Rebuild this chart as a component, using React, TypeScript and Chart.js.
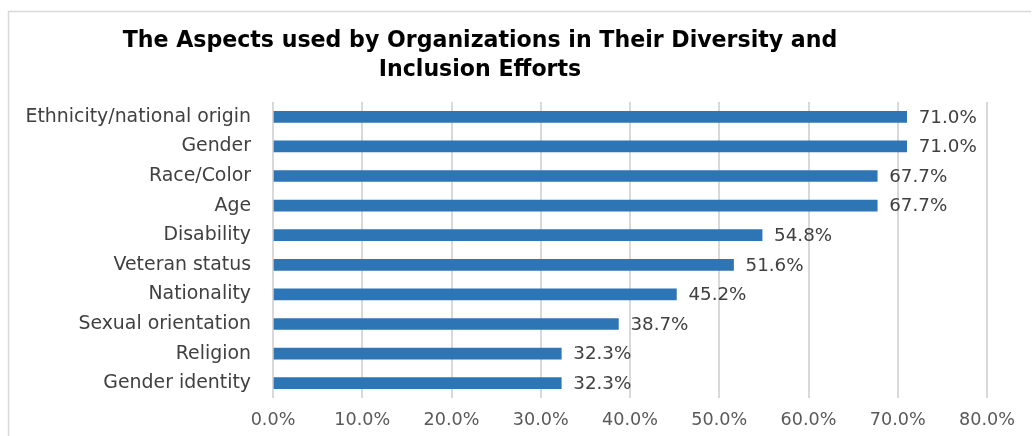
import React, { useEffect, useRef } from "react";
import { Chart, registerables } from "chart.js";

Chart.register(...registerables);

const TITLE_LINES = [
  "The Aspects used by Organizations in Their Diversity and",
  "Inclusion Efforts",
];
const CATEGORIES = [
  "Ethnicity/national origin",
  "Gender",
  "Race/Color",
  "Age",
  "Disability",
  "Veteran status",
  "Nationality",
  "Sexual orientation",
  "Religion",
  "Gender identity",
];
const VALUES = [71.0, 71.0, 67.7, 67.7, 54.8, 51.6, 45.2, 38.7, 32.3, 32.3];
const X_MIN = 0;
const X_MAX = 80;
const X_STEP = 10;

const FONT = "'DejaVu Sans', 'Open Sans', sans-serif";

function fitSize(text: string, target: number, weight: string): number {
  const c = document.createElement("canvas");
  const ctx = c.getContext("2d")!;
  ctx.font = `${weight} 20px ${FONT}`;
  const w = ctx.measureText(text).width;
  return Math.round((20 * target / w) * 10) / 10;
}

const framePlugin = {
  id: "frame",
  beforeDraw(chart: any) {
    const ctx = chart.ctx;
    ctx.save();
    ctx.fillStyle = "#ffffff";
    ctx.fillRect(0, 0, chart.width, chart.height);
    ctx.strokeStyle = "#d9d9d9";
    ctx.lineWidth = 1.5;
    ctx.beginPath();
    ctx.moveTo(8.5, chart.height + 5);
    ctx.lineTo(8.5, 11.5);
    ctx.lineTo(chart.width - 1, 11.5);
    ctx.stroke();
    ctx.restore();
  },
};

export default function App() {
  const ref = useRef<HTMLCanvasElement | null>(null);
  useEffect(() => {
    if (!ref.current) return;
    const catSize = fitSize(CATEGORIES[0], 225, "normal");
    const tickSize = fitSize("80.0%", 56, "normal");
    const valSize = fitSize("71.0%", 58, "normal");
    const titleSize = fitSize(TITLE_LINES[0], 716, "bold");

    const titlePlugin = {
      id: "customTitle",
      afterDraw(chart: any) {
        const ctx = chart.ctx;
        ctx.save();
        ctx.fillStyle = "#000000";
        ctx.textAlign = "center";
        ctx.textBaseline = "middle";
        ctx.font = `bold ${titleSize}px ${FONT}`;
        const cx = 480;
        ctx.fillText(TITLE_LINES[0], cx, 41);
        ctx.fillText(TITLE_LINES[1], cx, 70);
        ctx.restore();
      },
    };

    const labelPlugin = {
      id: "valueLabels",
      afterDatasetsDraw(chart: any) {
        const ctx = chart.ctx;
        const meta = chart.getDatasetMeta(0);
        ctx.save();
        ctx.fillStyle = "#404040";
        ctx.font = `${valSize}px ${FONT}`;
        ctx.textAlign = "left";
        ctx.textBaseline = "middle";
        meta.data.forEach((el: any, i: number) => {
          const v = chart.data.datasets[0].data[i];
          ctx.fillText(v.toFixed(1) + "%", el.x + 12, el.y + 1);
        });
        ctx.restore();
      },
    };

    const chart = new Chart(ref.current, {
      type: "bar",
      data: {
        labels: CATEGORIES,
        datasets: [
          {
            data: VALUES,
            backgroundColor: "#2E75B6",
            borderWidth: 0,
            barThickness: 11,
          },
        ],
      },
      options: {
        indexAxis: "y",
        responsive: false,
        animation: false,
        layout: { padding: { top: 102, right: 45, left: 0, bottom: 0 } },
        plugins: {
          legend: { display: false },
          title: { display: false },
          tooltip: { enabled: false },
        },
        scales: {
          x: {
            min: X_MIN,
            max: X_MAX,
            border: { display: false },
            grid: { color: "#d9d9d9", lineWidth: 2, drawTicks: false },
            ticks: {
              stepSize: X_STEP,
              padding: 12,
              color: "#595959",
              font: { family: FONT, size: tickSize },
              callback: (v: any) => Number(v).toFixed(1) + "%",
            },
            afterFit: (s: any) => {
              s.height = 38;
            },
          },
          y: {
            border: { display: false },
            grid: { display: false, drawTicks: false },
            ticks: {
              padding: 22,
              color: "#404040",
              font: { family: FONT, size: catSize },
            },
            afterFit: (s: any) => {
              s.width = 273;
            },
          },
        },
      },
      plugins: [framePlugin, titlePlugin, labelPlugin],
    });
    return () => chart.destroy();
  }, []);
  return (
    <div style={{ position: "fixed", left: 0, top: 0, width: 1032, height: 436 }}>
      <canvas ref={ref} width={1032} height={436} style={{ display: "block" }} />
    </div>
  );
}
